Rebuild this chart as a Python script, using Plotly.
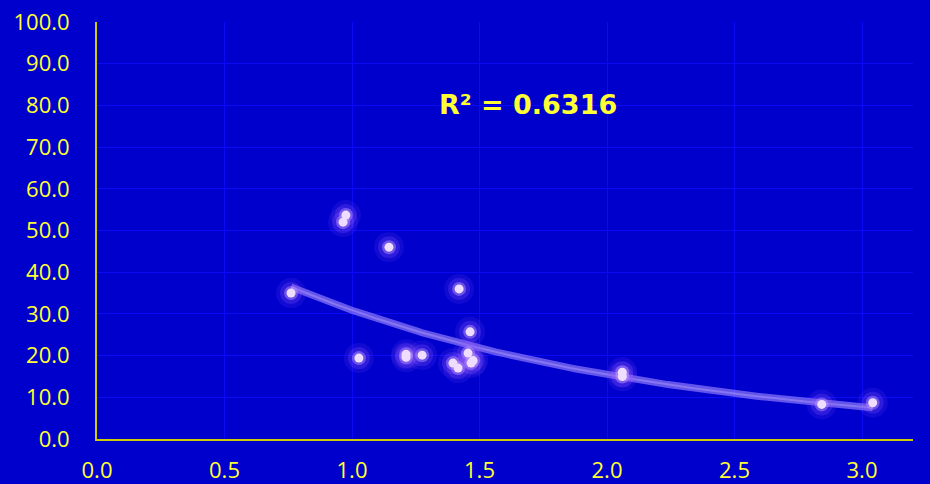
import numpy as np
import plotly.graph_objects as go

# Observations: ratio (x) vs. value (y)
x_vals = [0.761, 0.965, 0.976, 1.027, 1.145, 1.212, 1.212, 1.275, 1.396, 1.416,
          1.420, 1.455, 1.463, 1.467, 1.475, 2.060, 2.060, 2.842, 3.042]
y_vals = [35.0, 52.0, 53.7, 19.4, 46.0, 20.3, 19.6, 20.1, 18.2, 17.0,
          36.0, 20.6, 25.7, 18.2, 18.8, 16.0, 15.0, 8.3, 8.7]

x_tick_vals = [0.0, 0.5, 1.0, 1.5, 2.0, 2.5, 3.0]
y_tick_vals = [0, 10, 20, 30, 40, 50, 60, 70, 80, 90, 100]
r2_label = "R² = 0.6316"

BG = "#0000CC"
GRID = "#0A0AF5"
AXIS = "#CCCC00"
TEXT = "#FFFF33"
FONT = "Open Sans"

# Exponential trend y = a*exp(b*x), least squares on log(y)
xa = np.array(x_vals)
ya = np.array(y_vals)
b, ln_a = np.polyfit(xa, np.log(ya), 1)
xs = np.linspace(xa.min(), xa.max(), 200)
ys = np.exp(ln_a) * np.exp(b * xs)

fig = go.Figure()

fig.add_trace(go.Scatter(x=xs, y=ys, mode="lines",
                         line=dict(color="rgba(165,140,255,0.6)", width=7),
                         hoverinfo="skip", showlegend=False))
fig.add_trace(go.Scatter(x=xs, y=ys, mode="lines",
                         line=dict(color="rgba(215,200,255,0.3)", width=2),
                         hoverinfo="skip", showlegend=False))

# Glowing markers: soft halo layers under a bright core
for size, color in [(30, "rgba(140,80,255,0.12)"),
                    (22, "rgba(160,100,255,0.2)"),
                    (14, "rgba(190,150,255,0.45)")]:
    fig.add_trace(go.Scatter(x=x_vals, y=y_vals, mode="markers",
                             marker=dict(size=size, color=color, line=dict(width=0)),
                             hoverinfo="skip", showlegend=False))
fig.add_trace(go.Scatter(x=x_vals, y=y_vals, mode="markers",
                         marker=dict(size=9, color="#EEDDFF", line=dict(width=0)),
                         showlegend=False))

fig.add_annotation(x=1.69, y=80.2, text=r2_label, showarrow=False,
                   font=dict(family="DejaVu Sans", size=27, color=TEXT, weight="bold"))

fig.update_layout(
    width=930, height=484,
    margin=dict(l=97, r=17, t=22, b=45),
    paper_bgcolor=BG, plot_bgcolor=BG,
    font=dict(family=FONT, color=TEXT, size=22),
)
fig.update_xaxes(range=[0, 3.2], tickvals=x_tick_vals, tickformat=".1f",
                 showgrid=True, gridcolor=GRID, gridwidth=1,
                 showline=True, linecolor=AXIS, linewidth=2, zeroline=False,
                 ticks="", ticklabelstandoff=11, automargin=False,
                 tickfont=dict(family=FONT, size=22, color=TEXT))
fig.update_yaxes(range=[0, 100], tickvals=y_tick_vals, tickformat=".1f",
                 showgrid=True, gridcolor=GRID, gridwidth=1,
                 showline=True, linecolor=AXIS, linewidth=2, zeroline=False,
                 ticks="", ticklabelstandoff=21, automargin=False,
                 tickfont=dict(family=FONT, size=22, color=TEXT))

fig.write_html("out.html")
